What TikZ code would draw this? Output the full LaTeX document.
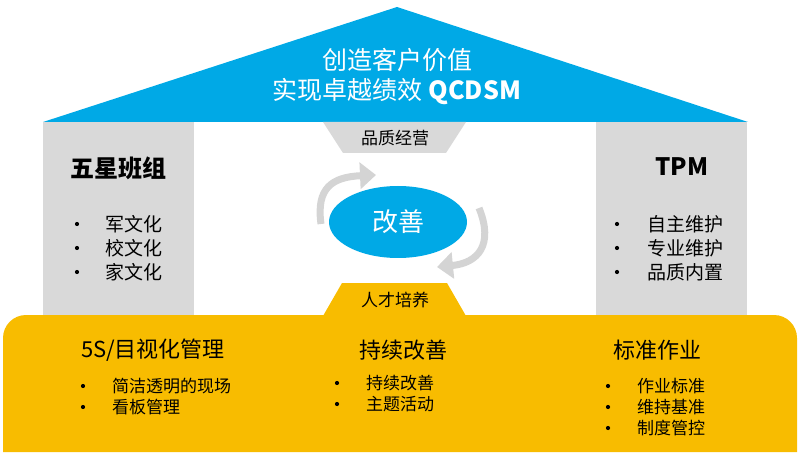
\documentclass[tikz,border=0pt]{standalone}
\usepackage{fontspec}
\setmainfont{Noto Sans CJK SC}
\usetikzlibrary{arrows.meta,shapes.geometric}

\definecolor{azul}{HTML}{00A9E6}
\definecolor{gris}{HTML}{D9D9D9}
\definecolor{amarillo}{HTML}{F8BC00}
\definecolor{grisflecha}{HTML}{D4D4D4}

\tikzset{
  titulo/.style={font=\fontsize{24}{28}\selectfont\bfseries},
  subtitulo/.style={font=\fontsize{22}{26}\selectfont},
  item/.style={anchor=west, inner sep=0pt, font=\fontsize{19}{22}\selectfont},
  itembase/.style={anchor=west, inner sep=0pt, font=\fontsize{17}{20}\selectfont},
  punto/.style={circle, fill=black, inner sep=0pt, minimum size=4.2pt},
  flecha/.style={draw=grisflecha, line width=7pt, -{Triangle[width=26pt,length=16pt]}},
}

\begin{document}
\begin{tikzpicture}[x=1pt,y=-1pt]
  \useasboundingbox (0,0) rectangle (800,454);

  % Techo
  \fill[azul] (43,122) -- (397,7) -- (748,122) -- cycle;
  \node[text=white, font=\fontsize{25}{30}\selectfont] (techoa) at (397,60) {创造客户价值};
  \node[text=white, font=\fontsize{25}{30}\selectfont] (techob) at (397,92) {实现卓越绩效 {\bfseries QCDSM}};

  % Pilares
  \fill[gris] (43,122) rectangle (194,316);
  \fill[gris] (596,122) rectangle (747,316);

  % Calidad
  \fill[gris] (323,122) -- (466,122) -- (446,153) -- (343,153) -- cycle;
  \node[font=\fontsize{17}{20}\selectfont] (calidad) at (395,138) {品质经营};

  % Mejora
  \node[ellipse, fill=azul, minimum width=138pt, minimum height=72pt,
        text=white, font=\fontsize{26}{30}\selectfont] (gaishan) at (398,222) {改善};
  \coordinate (fa1) at (321,224);
  \coordinate (fa2) at (376,175);
  \draw[flecha] (fa1) .. controls (316,188) and (332,177) .. (fa2);
  \coordinate (fb1) at (479,208);
  \coordinate (fb2) at (437,267);
  \draw[flecha] (fb1) .. controls (494,245) and (478,263) .. (fb2);

  % Base
  \fill[amarillo, rounded corners=23pt] (3,452) -- (3,315) -- (797,315) -- (797,452);
  \fill[amarillo] (323,316) -- (342,283) -- (447,283) -- (466,316) -- cycle;
  \node[font=\fontsize{17}{20}\selectfont] (talento) at (395,300) {人才培养};

  % Pilar izquierdo
  \node[titulo] (wuxing) at (118,168) {五星班组};
  \foreach \t [count=\i] in {军文化,校文化,家文化}{
    \node[punto] (izqp\i) at (77,200+24*\i) {};
    \node[item] (izq\i) at (105,200+24*\i) {\t};
  }

  % Pilar derecho
  \node[titulo] (tpm) at (682,167) {TPM};
  \foreach \t [count=\i] in {自主维护,专业维护,品质内置}{
    \node[punto] (derp\i) at (617,200+24*\i) {};
    \node[item] (der\i) at (647,200+24*\i) {\t};
  }

  % Columnas de la base
  \node[subtitulo] (cinco) at (153,350) {5S/目视化管理};
  \foreach \t [count=\i] in {简洁透明的现场,看板管理}{
    \node[punto] (cincop\i) at (83,365+21*\i) {};
    \node[itembase] (cinco\i) at (112,365+21*\i) {\t};
  }

  \node[subtitulo] (mejora) at (403,350) {持续改善};
  \foreach \t [count=\i] in {持续改善,主题活动}{
    \node[punto] (mejorap\i) at (337,362+21*\i) {};
    \node[itembase] (mejora\i) at (366,362+21*\i) {\t};
  }

  \node[subtitulo] (estandar) at (657,350) {标准作业};
  \foreach \t [count=\i] in {作业标准,维持基准,制度管控}{
    \node[punto] (estandarp\i) at (608,365+21*\i) {};
    \node[itembase] (estandar\i) at (637,365+21*\i) {\t};
  }
\end{tikzpicture}
\end{document}
